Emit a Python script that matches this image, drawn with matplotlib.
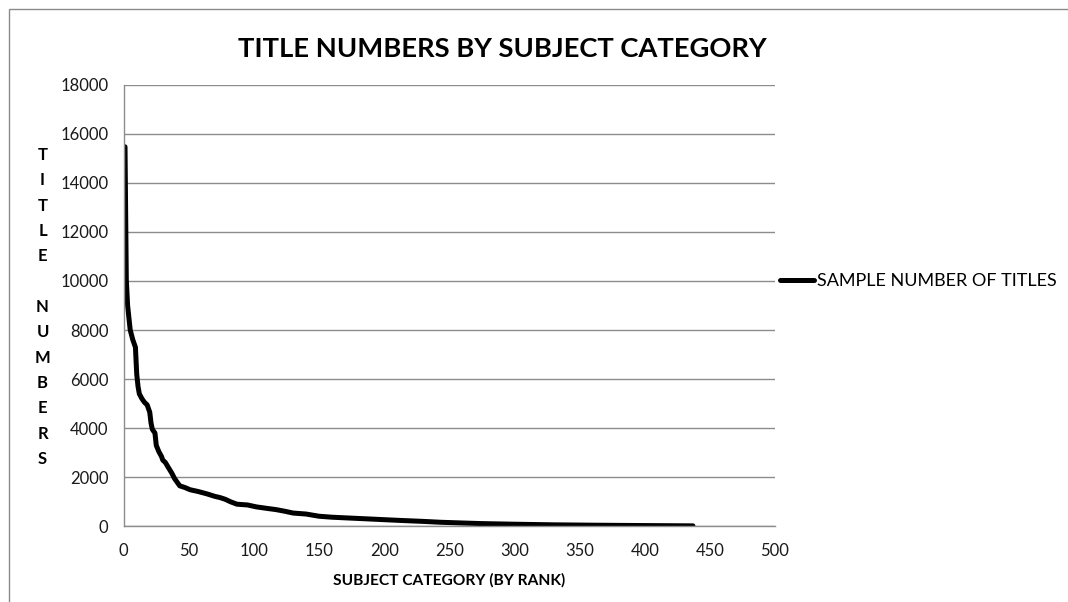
import matplotlib
matplotlib.use("Agg")
import matplotlib.pyplot as plt
from matplotlib.patches import Rectangle

# values (rank, number of titles)
ranks = [1, 2, 3, 5, 7, 9, 10, 11, 12, 14, 16, 18, 20, 21, 22, 24, 25, 27,
         29, 30, 32, 34, 37, 39, 41, 43, 47, 51, 57, 64, 70, 74, 78, 82, 87,
         95, 102, 110, 117, 124, 130, 140, 150, 160, 180, 200, 212, 230, 243,
         260, 275, 300, 330, 360, 400, 437]
titles = [15470, 10050, 9000, 8000, 7600, 7300, 6200, 5700, 5400, 5200,
          5050, 4950, 4650, 4200, 3950, 3800, 3300, 3040, 2850, 2700, 2600,
          2420, 2160, 1950, 1800, 1650, 1580, 1490, 1420, 1320, 1220, 1170,
          1100, 1000, 900, 870, 790, 730, 680, 610, 540, 500, 410, 370, 320,
          270, 240, 200, 165, 135, 110, 85, 60, 45, 30, 18]

series_name = "SAMPLE NUMBER OF TITLES"
title = "TITLE NUMBERS BY SUBJECT CATEGORY"
xlabel = "SUBJECT CATEGORY (BY RANK)"
ylabel = "TITLE NUMBERS"
xticks = [0, 50, 100, 150, 200, 250, 300, 350, 400, 450, 500]
yticks = [0, 2000, 4000, 6000, 8000, 10000, 12000, 14000, 16000, 18000]

plt.rcParams["font.family"] = ["Lato", "DejaVu Sans"]

W, H = 1068, 602
fig = plt.figure(figsize=(W / 100, H / 100), dpi=100)
ax = fig.add_axes([123.7 / W, 1 - 526.3 / H, (775 - 123.7) / W, (526.3 - 84.7) / H])

# outer chart frame
fig.patches.append(Rectangle((8.5 / W, -0.05), 1.2, (H - 9.3) / H + 0.05,
                             transform=fig.transFigure, fill=False,
                             edgecolor="#8a8a8a", linewidth=1.0))

ax.plot(ranks, titles, color="black", linewidth=3.6,
        solid_joinstyle="round", solid_capstyle="round", label=series_name)

ax.set_xlim(0, 500)
ax.set_ylim(0, 18000)
ax.set_xticks(xticks)
ax.set_yticks(yticks)
ax.yaxis.grid(True, color="#8c8c8c", linewidth=1.0)
ax.set_axisbelow(True)
ax.tick_params(length=0, labelsize=12, labelcolor="#1a1a1a")
ax.tick_params(axis="y", pad=11)
ax.tick_params(axis="x", pad=12)
for side in ["top", "right"]:
    ax.spines[side].set_visible(False)
for side in ["left", "bottom"]:
    ax.spines[side].set_color("#8c8c8c")
    ax.spines[side].set_linewidth(1.0)

ax.set_xlabel(xlabel, fontsize=11.2, fontweight="bold", labelpad=10)

fig.text(502 / W, 1 - 49 / H, title, ha="center", va="center",
         fontsize=19.7, fontweight="bold")

# vertical stacked y label
stacked = "\n".join(ch if ch != " " else "" for ch in ylabel)
fig.text(42.5 / W, 1 - 307 / H, stacked, ha="center", va="center",
         fontsize=12, fontweight="bold", linespacing=1.72)

ax.legend(loc="center left", bbox_to_anchor=(773 / W, 1 - 281 / H),
          bbox_transform=fig.transFigure, frameon=False, fontsize=13,
          handlelength=1.85, handletextpad=0.2, borderaxespad=0)

fig.savefig("out.png", dpi=100, facecolor="white")
